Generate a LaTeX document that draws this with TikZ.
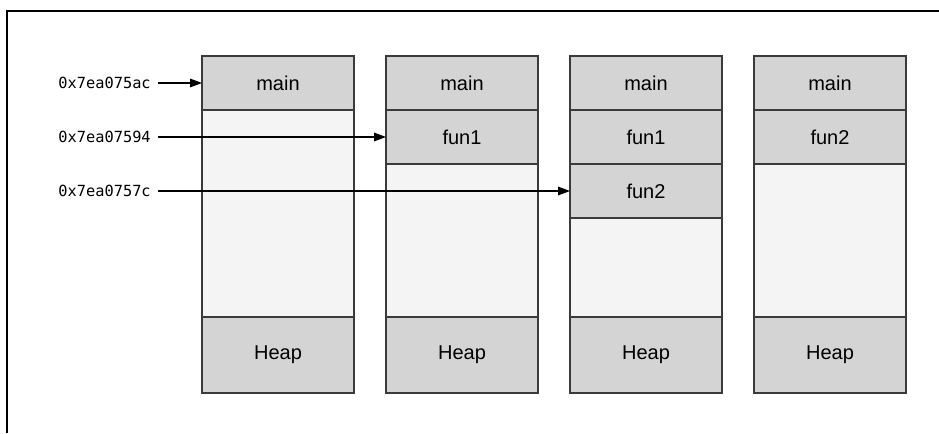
\documentclass[tikz,border=0pt]{standalone}
\usepackage{fontspec}
\setmainfont{Liberation Sans}
\setmonofont{DejaVu Sans Mono}
\usetikzlibrary{arrows.meta,positioning}
\definecolor{frameGray}{HTML}{D4D4D4}
\definecolor{freeGray}{HTML}{F4F4F4}
\definecolor{edgeGray}{HTML}{3A3A3A}

\begin{document}
\begin{tikzpicture}[
            x=0.75pt, y=-0.75pt,
            frame/.style={draw=edgeGray, line width=1pt, fill=frameGray, minimum width=114pt, minimum height=40.5pt, inner sep=0pt, outer sep=0pt, font=\fontsize{15}{18}\selectfont},
            heap/.style={frame, minimum height=57pt},
            free/.style={frame, fill=freeGray},
            addr/.style={anchor=east, inner xsep=5.25pt, inner ysep=0pt, font=\ttfamily\fontsize{11.5}{14}\selectfont},
            arrow/.style={-{Triangle[length=9pt, width=6.5pt]}, line width=0.8pt},
            node distance=0pt and 24pt
        ]
        \useasboundingbox (0,0) rectangle (939,433);

        % outer frame
        \draw[line width=2pt] (939,11) -- (6,11);
        \draw[line width=1.6pt] (7,10) -- (7,433);

        % first stack
        \node[frame, anchor=north west] (main1) at (202,56) {main};
        \node[free, below=of main1, minimum height=155.25pt] (free1) {};
        \node[heap, below=of free1] (heap1) {Heap};

        % second stack
        \node[frame, right=of main1] (main2) {main};
        \node[frame, below=of main2] (funA2) {fun1};
        \node[free, below=of funA2, minimum height=114.75pt] (free2) {};
        \node[heap, below=of free2] (heap2) {Heap};

        % third stack
        \node[frame, right=of main2] (main3) {main};
        \node[frame, below=of main3] (funA3) {fun1};
        \node[frame, below=of funA3] (funB3) {fun2};
        \node[free, below=of funB3, minimum height=74.25pt] (free3) {};
        \node[heap, below=of free3] (heap3) {Heap};

        % fourth stack
        \node[frame, right=of main3] (main4) {main};
        \node[frame, below=of main4] (funB4) {fun2};
        \node[free, below=of funB4, minimum height=114.75pt] (free4) {};
        \node[heap, below=of free4] (heap4) {Heap};

        % stack pointers
        \node[addr] (addr1) at (158,83) {0x7ea075ac};
        \node[addr] (addr2) at (158,137) {0x7ea07594};
        \node[addr] (addr3) at (158,191) {0x7ea0757c};

        \draw[arrow] (addr1.east) -- (main1.west);
        \draw[arrow] (addr2.east) -- (funA2.west);
        \draw[arrow] (addr3.east) -- (funB3.west);

    \end{tikzpicture}
\end{document}
